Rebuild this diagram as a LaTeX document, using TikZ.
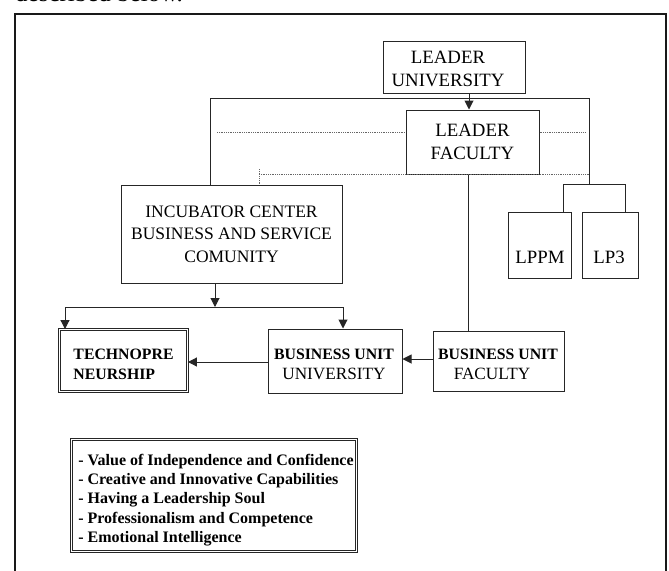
\documentclass[tikz,border=0pt]{standalone}
\usepackage{fontspec}
\setmainfont{Liberation Serif}
\usetikzlibrary{arrows.meta}
\begin{document}
\begin{tikzpicture}[x=1pt,y=-1pt,
  box/.style={draw=black!85, line width=1pt, inner sep=0pt, align=center},
  dbox/.style={draw=black!85, line width=0.9pt, double, double distance=1.6pt, inner sep=0pt},
  lbl/.style={inner sep=0pt},
  conn/.style={draw=black!85, line width=1pt},
  arr/.style={conn, -{Triangle[length=9pt,width=9pt]}},
  dots/.style={draw=black!60, line width=0.9pt, dash pattern=on 0.9pt off 0.9pt},
  big/.style={font=\fontsize{18.8}{23}\selectfont},
  mid/.style={font=\fontsize{17.5}{22.5}\selectfont},
  unit/.style={font=\fontsize{17.2}{20}\selectfont}
]
\useasboundingbox (0,0) rectangle (669,570);
% page text cut off at the top
\node[anchor=base west, inner sep=0pt, font=\fontsize{25}{30}\selectfont] (cap) at (15,1.5) {described below.};
% outer frame
\draw[line width=1.8pt, black!90] (15,14) rectangle (666,600);

% boxes
\node[box, minimum width=142pt, minimum height=52pt] (lu) at (454,67) {};
\node[lbl, big, align=center] (lut) at (448,68.5) {LEADER\\UNIVERSITY};
\node[box, big, minimum width=133pt, minimum height=64pt] (lf) at (472.5,142) {LEADER\\FACULTY};
\node[box, mid, minimum width=221pt, minimum height=98pt] (inc) at (231.5,234) {INCUBATOR CENTER\\BUSINESS AND SERVICE\\COMUNITY};
\node[box, minimum width=63pt, minimum height=66pt] (lppm) at (539.5,245) {};
\node[lbl, big] (lppmt) at (540,257) {LPPM};
\node[box, minimum width=56pt, minimum height=66pt] (lp3) at (610,245) {};
\node[lbl, big] (lp3t) at (609,257) {LP3};
\node[box, unit, minimum width=131pt, minimum height=60pt] (buf) at (498.5,361) {};
\node[lbl, unit, align=center] (buft) at (498,364)
  {{\bfseries\fontsize{15.8}{20}\selectfont BUSINESS UNIT}\\FACULTY\hspace*{12pt}};
\node[box, unit, minimum width=134pt, minimum height=64pt] (buu) at (335,361) {};
\node[lbl, unit, align=center] (buut) at (334,364)
  {{\bfseries\fontsize{15.8}{20}\selectfont BUSINESS UNIT}\\UNIVERSITY};
\node[dbox, minimum width=128pt, minimum height=62pt] (tech) at (123.5,360.5) {};
\node[lbl, align=left, font=\fontsize{15.8}{19.5}\selectfont\bfseries] (techt) at (123.5,364.5) {TECHNOPRE\\NEURSHIP};
\node[dbox, minimum width=285pt, minimum height=112pt] (val) at (214,495.5) {};
\node[lbl, align=left, font=\fontsize{16}{19.3}\selectfont\bfseries] (valt) at (216,500)
  {- Value of Independence and Confidence\\- Creative and Innovative Capabilities\\- Having a Leadership Soul\\- Professionalism and Competence\\- Emotional Intelligence};

% coordinates
\coordinate (tl) at (210,98);
\coordinate (tr) at (589,98);
\coordinate (br) at (589,184);
\coordinate (b1) at (563,184);
\coordinate (b2) at (625,184);
\coordinate (vx) at (468,250);
\coordinate (hm) at (215,307);
\coordinate (hl) at (65,307);
\coordinate (hr) at (343,307);
\coordinate (d1) at (217,132);
\coordinate (d2) at (585,132);
\coordinate (d3) at (259,169);
\coordinate (d4) at (589,174);

% solid connectors
\draw[arr] ([xshift=-3.5pt]lf.north |- lu.south) -- ([xshift=-3.5pt]lf.north);
\draw[conn] (inc.north -| tl) -- (tl) -- (tr) -- (br);
\draw[conn] (lppm.north -| b1) -- (b1) -- (b2) -- (lp3.north -| b2);
\draw[conn] (lf.south -| vx) -- (buf.north -| vx);
\draw[arr] (inc.south -| hm) -- (hm);
\draw[conn] (hl) -- (hr);
\draw[arr] (hl) -- (tech.north -| hl);
\draw[arr] (hr) -- (buu.north -| hr);
\draw[arr] ([yshift=2pt]buf.west) -- ([yshift=2pt]buf.west -| buu.east);
\draw[arr] ([yshift=-1pt]buu.west) -- ([yshift=-1pt]buu.west -| tech.east);

% dotted connectors
\draw[dots] (d1) -- (d1 -| lf.west);
\draw[dots] (d2 -| lf.east) -- (d2);
\draw[dots] (d3) -- (inc.north -| d3);
\draw[dots] (d3 |- d4) -- (d4);
\end{tikzpicture}
\end{document}
